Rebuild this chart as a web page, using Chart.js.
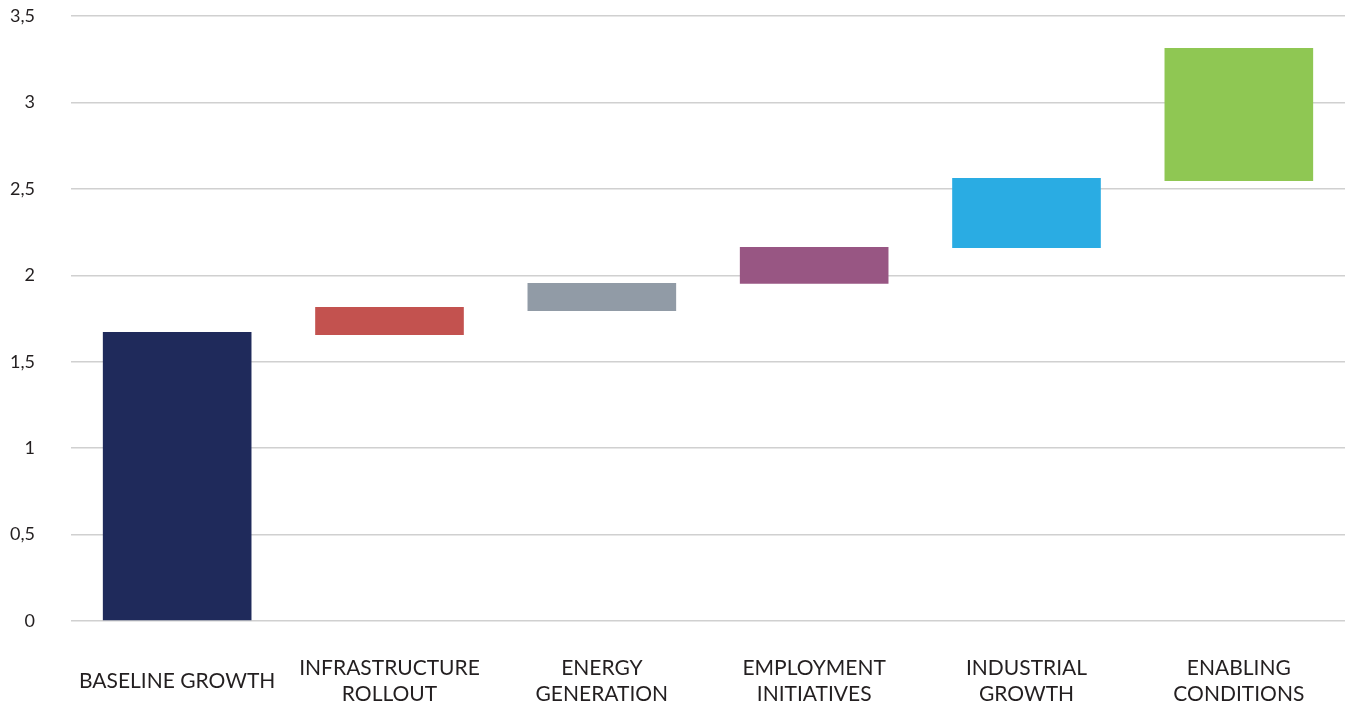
<!DOCTYPE html>
<html>
<head>
<meta charset="utf-8">
<script src="https://cdn.jsdelivr.net/npm/chart.js@4.4.1/dist/chart.umd.min.js"></script>
<style>
  html, body { margin: 0; padding: 0; background: #fff; }
  #wrap { width: 1352px; height: 704px; }
</style>
</head>
<body>
<div id="wrap"><canvas id="waterfall-chart"></canvas></div>
<script>
// Waterfall chart data
const categories = [
  ['BASELINE GROWTH'],
  ['INFRASTRUCTURE', 'ROLLOUT'],
  ['ENERGY', 'GENERATION'],
  ['EMPLOYMENT', 'INITIATIVES'],
  ['INDUSTRIAL', 'GROWTH'],
  ['ENABLING', 'CONDITIONS']
];
const barStart = [0, 1.655, 1.793, 1.951, 2.158, 2.545];
const barEnd = [1.672, 1.816, 1.955, 2.164, 2.563, 3.315];
const barColors = ['#1f2a5b', '#c3524f', '#919ba6', '#985683', '#2aace3', '#8fc753'];
const yTicks = [0, 0.5, 1, 1.5, 2, 2.5, 3, 3.5];

const fontFamily = 'Lato, "Open Sans", sans-serif';

function initializeWaterfallChart() {
  const ctx = document.getElementById('waterfall-chart');
  if (!ctx) return;

  new Chart(ctx, {
    type: 'bar',
    data: {
      labels: categories,
      datasets: [{
        data: barStart.map((s, i) => [s, barEnd[i]]),
        backgroundColor: barColors,
        borderWidth: 0,
        categoryPercentage: 0.7,
        barPercentage: 1
      }]
    },
    options: {
      responsive: true,
      maintainAspectRatio: false,
      animation: false,
      layout: { padding: { top: 16, right: 7 } },
      plugins: {
        legend: { display: false },
        tooltip: { enabled: false }
      },
      scales: {
        x: {
          grid: { display: false },
          border: { display: false },
          ticks: {
            color: '#231f20',
            font: { family: fontFamily, size: 21, lineHeight: 1.25 },
            maxRotation: 0,
            autoSkip: false,
            padding: 39,
            crossAlign: 'center'
          },
          afterFit: (scale) => {
            scale.height = 83;
            scale.paddingLeft = 0;
            scale.paddingRight = 0;
          }
        },
        y: {
          min: 0,
          max: 3.5,
          afterBuildTicks: (scale) => { scale.ticks = yTicks.map(v => ({ value: v })); },
          grid: { color: '#d0d0d0', lineWidth: 1.5, drawTicks: false },
          border: { display: false },
          ticks: {
            color: '#231f20',
            font: { family: fontFamily, size: 18 },
            padding: 36,
            callback: (v) => String(v).replace('.', ',')
          },
          afterFit: (scale) => {
            scale.width = 71;
            scale.paddingTop = 0;
            scale.paddingBottom = 0;
          }
        }
      }
    }
  });
}

initializeWaterfallChart();
</script>
</body>
</html>
